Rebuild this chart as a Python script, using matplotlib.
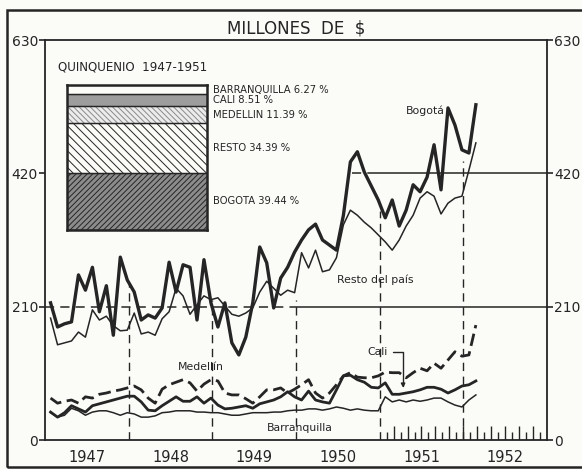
import numpy as np
import matplotlib.pyplot as plt
from matplotlib.patches import Rectangle

# monthly series, Jan 1947 - Feb 1952 (millones de $)
months = np.arange(62)
bogota = [216, 178, 183, 186, 260, 236, 272, 202, 243, 165,
          288, 252, 233, 189, 197, 192, 208, 280, 233, 276,
          272, 189, 284, 216, 178, 216, 153, 134, 162, 216,
          304, 279, 208, 255, 272, 296, 315, 331, 340, 315,
          307, 299, 354, 438, 454, 422, 400, 378, 350, 378,
          337, 362, 402, 391, 414, 465, 394, 523, 496, 457,
          452, 528]
resto = [192, 150, 153, 156, 170, 162, 205, 189, 195, 180,
         172, 173, 200, 167, 170, 165, 191, 202, 239, 227,
         198, 213, 227, 221, 224, 211, 198, 195, 200, 208,
         233, 250, 239, 228, 236, 232, 295, 271, 299, 265,
         268, 287, 339, 362, 354, 343, 334, 323, 312, 299,
         315, 337, 354, 381, 391, 384, 356, 373, 381, 384,
         425, 468]
medellin = [66, 58, 61, 63, 58, 68, 66, 72, 74, 77,
            79, 82, 85, 79, 66, 58, 80, 87, 91, 95,
            90, 77, 88, 95, 93, 74, 71, 71, 65, 58,
            68, 79, 79, 82, 74, 80, 87, 95, 74, 66,
            74, 87, 101, 106, 99, 98, 98, 101, 107, 106,
            106, 98, 106, 113, 109, 121, 113, 126, 139, 132,
            134, 181]
cali = [44, 36, 43, 54, 49, 44, 54, 57, 60, 63,
        66, 69, 69, 60, 47, 46, 54, 61, 68, 61,
        61, 68, 58, 66, 55, 49, 50, 52, 54, 50,
        57, 60, 63, 68, 76, 68, 63, 77, 63, 60,
        58, 79, 101, 102, 95, 91, 83, 82, 90, 72,
        72, 74, 76, 79, 83, 83, 80, 74, 79, 85,
        87, 93]
barranquilla = [43, 36, 39, 50, 46, 39, 44, 46, 46, 43,
                39, 43, 41, 36, 36, 38, 43, 44, 46, 46,
                46, 44, 44, 43, 43, 41, 39, 39, 41, 43,
                43, 43, 44, 44, 46, 47, 47, 49, 49, 47,
                49, 52, 50, 47, 49, 47, 46, 46, 68, 60,
                63, 60, 63, 61, 63, 66, 66, 60, 55, 52,
                63, 71]

# quinquenio 1947-1951 shares, bottom to top
share_names = ["BOGOTA", "RESTO", "MEDELLIN", "CALI", "BARRANQUILLA"]
share_pct = [39.44, 34.39, 11.39, 8.51, 6.27]

year_labels = ["1947", "1948", "1949", "1950", "1951", "1952"]
y_ticks = [0, 210, 420, 630]

INK = "#252525"
PAPER = "#fbfbf8"
W, H = 582, 469

plt.rcParams["font.family"] = "DejaVu Sans"
plt.rcParams["hatch.linewidth"] = 0.7


def px_box(x0, y0, x1, y1):
    return [x0 / W, 1 - y1 / H, (x1 - x0) / W, (y1 - y0) / H]


t = 1947 + (months + 0.8) / 12

fig = plt.figure(figsize=(W / 100, H / 100), dpi=100, facecolor=PAPER)
ax = fig.add_axes(px_box(45, 40, 547, 440))
ax.set_facecolor(PAPER)
ax.set_xlim(1947, 1953)
ax.set_ylim(0, 630)

# reference lines
dash = (0, (6, 4))
ax.hlines(210, 1947, 1950, colors=INK, lw=1.1, linestyles=dash)
ax.hlines(210, 1950, 1953, colors=INK, lw=1.1)
ax.hlines(420, 1950.67, 1950.88, colors=INK, lw=1.1, linestyles=dash)
ax.hlines(420, 1950.88, 1953, colors=INK, lw=1.1)
grid_tops = [245, 220, 220, 360, 440]
for yr, top in zip(range(1948, 1953), grid_tops):
    ax.vlines(yr, 0, top, colors=INK, lw=1.0, linestyles=dash)

# monthly ticks along the bottom, 1951-1952
tick_x = np.arange(1951, 1953, 1 / 12)
tick_len = np.where(np.arange(len(tick_x)) % 2 == 0, 22, 12)
ax.vlines(tick_x[1:], 0, tick_len[1:], colors=INK, lw=1.0)

# series
ax.plot(t, resto, color=INK, lw=1.1)
ax.plot(t, barranquilla, color=INK, lw=1.1)
ax.plot(t, cali, color=INK, lw=2.0)
ax.plot(t, medellin, color=INK, lw=2.0, dashes=(4.5, 2))
ax.plot(t, bogota, color=INK, lw=2.4)

for s in ax.spines.values():
    s.set_color(INK)
    s.set_linewidth(1.3)

ax.set_yticks(y_ticks)
ax.tick_params(axis="y", which="both", left=True, right=True, labelleft=True,
               labelright=True, direction="out", length=4, width=1.2,
               colors=INK, labelsize=10, pad=1)
ax.set_xticks(np.arange(1947.5, 1953, 1), labels=year_labels)
ax.tick_params(axis="x", length=0, labelsize=10.5, pad=7, colors=INK)

# labels on the series
ax.text(1951.54, 518, "Bogotá", fontsize=7.8, ha="center", va="center", color=INK)
ax.text(1950.95, 252, "Resto del país", fontsize=7.8, ha="center", va="center", color=INK)
ax.text(1948.86, 115, "Medellín", fontsize=7.8, ha="center", va="center", color=INK)
ax.text(1950.05, 19, "Barranquilla", fontsize=7.8, ha="center", va="center", color=INK)
ax.annotate("Cali", xy=(1951.28, 82), xytext=(1950.97, 139), fontsize=7.8,
            ha="center", va="center", color=INK,
            arrowprops=dict(arrowstyle="-|>", color=INK, lw=1.0, mutation_scale=6,
                            shrinkA=2, shrinkB=0,
                            connectionstyle="angle,angleA=0,angleB=90,rad=0"))

# inset stacked bar (quinquenio)
leg = fig.add_axes(px_box(67, 85, 207, 230))
leg.set_xlim(-0.5, 0.5)
leg.set_ylim(0, sum(share_pct))
styles = [("#8c8c8c", "//////", INK),
          (PAPER, "\\\\\\\\", INK),
          ("#ececec", "\\\\\\\\\\\\", "#8a8a8a"),
          ("#9d9d9d", "", INK),
          (PAPER, "", INK)]
bottom = 0
for name, pct, (fc, hatch, ec) in zip(share_names, share_pct, styles):
    leg.bar(0, pct, bottom=bottom, width=1, color=fc, hatch=hatch,
            edgecolor=ec, linewidth=0.8)
    leg.axhline(bottom, color=INK, lw=1.0)
    leg.text(0.545, bottom + pct / 2, f"{name} {pct:.2f} %",
             fontsize=7.2, ha="left", va="center", color=INK, clip_on=False)
    bottom += pct
leg.set_xticks([])
leg.set_yticks([])
for s in leg.spines.values():
    s.set_color(INK)
    s.set_linewidth(1.8)

fig.text(58 / W, 1 - 67 / H, "QUINQUENIO  1947-1951", fontsize=8.6,
         ha="left", va="center", color=INK)
fig.text(296 / W, 1 - 28 / H, "MILLONES  DE  $", fontsize=12,
         ha="center", va="center", color=INK)

# outer frame of the plate
fig.add_artist(Rectangle((7 / W, 2 / H), (620 - 7) / W, (467 - 10) / H,
                         transform=fig.transFigure, fill=False,
                         edgecolor=INK, lw=1.8))

fig.savefig("out.png", dpi=100, facecolor=PAPER)
